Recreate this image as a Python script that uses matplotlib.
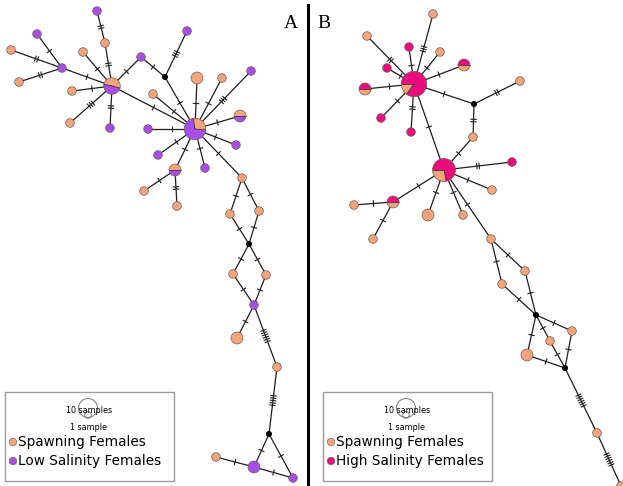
import numpy as np
import matplotlib
matplotlib.use("Agg")
import matplotlib.pyplot as plt
from matplotlib.patches import Circle, Wedge, Rectangle
from matplotlib.collections import LineCollection

# ---------------------------------------------------------------------------
# Haplotype network data (positions in image pixels, y down)
# frac = share of spawning females (-1 marks a median vector)

# panel A: spawning vs low salinity
a_x = [97, 105, 37, 11, 62, 19, 83, 112, 72, 70, 110, 141, 165, 187, 195, 197,
       222, 251, 153, 240, 148, 236, 158, 205, 175, 144, 177, 242, 230, 259,
       249, 233, 266, 254, 237, 277, 269, 216, 254, 293]
a_y = [11, 43, 34, 50, 68, 82, 52, 86, 91, 123, 128, 57, 77, 31, 129, 78,
       78, 71, 94, 116, 129, 145, 155, 168, 170, 191, 206, 178, 214, 211,
       244, 274, 275, 305, 338, 367, 434, 457, 467, 478]
a_n = [1, 1, 1, 1, 1, 1, 1, 4, 1, 1, 1, 1, 0, 1, 7, 2,
       1, 1, 1, 2, 1, 1, 1, 1, 2, 1, 1, 1, 1, 1,
       0, 1, 1, 1, 2, 1, 0, 1, 2, 1]
a_frac = [0, 1, 0, 1, 0, 1, 1, 0.51, 1, 1, 0, 0, -1, 0, 0.29, 1,
          1, 0, 1, 0.5, 0, 0, 0, 0, 0.5, 1, 1, 1, 1, 1,
          -1, 1, 1, 0, 1, 1, -1, 1, 0, 0]
a_start = {7: -15, 14: -5, 19: 0, 24: 0}
a_edges = [(0, 1, 2), (1, 7, 2), (2, 4, 1), (3, 4, 2), (5, 4, 2), (4, 7, 1),
           (6, 7, 1), (8, 7, 1), (9, 7, 3), (10, 7, 2), (7, 11, 1), (11, 12, 1),
           (12, 13, 3), (12, 14, 1), (7, 14, 1), (14, 15, 1), (14, 16, 1),
           (14, 17, 3), (14, 18, 1), (14, 19, 1), (14, 20, 1), (14, 21, 1),
           (14, 22, 1), (14, 23, 1), (14, 24, 1), (14, 27, 1), (24, 25, 1),
           (24, 26, 2), (27, 28, 1), (27, 29, 1), (28, 30, 1), (29, 30, 1),
           (30, 31, 1), (30, 32, 1), (31, 33, 1), (32, 33, 1), (33, 34, 1),
           (33, 35, 6), (35, 36, 5), (36, 38, 1), (36, 39, 1), (37, 38, 1),
           (38, 39, 1)]

# panel B: spawning vs high salinity
b_x = [433, 367, 409, 440, 387, 464, 414, 365, 381, 411, 474, 520, 473, 444,
       512, 492, 393, 354, 428, 463, 373, 491, 502, 525, 536, 572, 550, 527,
       565, 597, 621]
b_y = [14, 36, 47, 52, 68, 65, 84, 89, 118, 132, 104, 81, 137, 170,
       162, 190, 202, 205, 215, 215, 239, 239, 284, 271, 315, 331, 341, 355,
       368, 433, 486]
b_n = [1, 1, 1, 1, 1, 2, 10, 2, 1, 1, 0, 1, 1, 8,
       1, 1, 2, 1, 2, 1, 1, 1, 1, 1, 0, 1, 1, 2,
       0, 1, 1]
b_frac = [1, 1, 0, 1, 0, 0.5, 0.15, 0.5, 0, 0, -1, 1, 1, 0.28,
          0, 1, 0.5, 1, 1, 1, 1, 1, 1, 1, -1, 1, 1, 1,
          -1, 1, 1]
b_start = {5: 180, 6: 180, 7: 180, 13: 180, 16: 180}
b_edges = [(6, 0, 3), (6, 1, 2), (6, 2, 1), (6, 3, 1), (6, 4, 1), (6, 5, 1),
           (6, 7, 1), (6, 8, 1), (6, 9, 2), (6, 10, 1), (10, 11, 2), (10, 12, 2),
           (12, 13, 1), (6, 13, 1), (13, 14, 2), (13, 15, 1), (13, 16, 1),
           (16, 17, 1), (16, 20, 1), (13, 18, 1), (13, 19, 1), (13, 21, 1),
           (21, 22, 1), (21, 23, 1), (22, 24, 1), (23, 24, 1), (24, 25, 1),
           (24, 27, 1), (24, 26, 1), (26, 28, 1), (25, 28, 1), (27, 28, 1),
           (28, 29, 6), (29, 30, 6)]

legend_labels_a = ["Spawning Females", "Low Salinity Females"]
legend_labels_b = ["Spawning Females", "High Salinity Females"]

# ---------------------------------------------------------------------------
c_spawn = "#F4A47B"
c_low = "#A64DEA"
c_high = "#EC0B7E"
c_edge = "#1e1e1e"
c_rim = "#6e5a50"

fig = plt.figure(figsize=(6.23, 4.86), dpi=100)
ax = fig.add_axes([0, 0, 1, 1])
ax.set_xlim(0, 623)
ax.set_ylim(486, 0)
ax.axis("off")


def node_radius(n):
    # size scales with sample count
    if n == 0:
        return 2.3
    return 4.3 * n ** 0.47


def draw_network(xs, ys, ns, fracs, starts, edges, other):
    xs = np.asarray(xs, float)
    ys = np.asarray(ys, float)
    segs, ticks = [], []
    for i, j, k in edges:
        p = np.array([xs[i], ys[i]])
        q = np.array([xs[j], ys[j]])
        segs.append([p, q])
        d = (q - p) / np.hypot(*(q - p))
        nrm = np.array([-d[1], d[0]])
        mid = (p + q) / 2
        for t in range(k):
            c = mid + (t - (k - 1) / 2) * 2.4 * d
            ticks.append([c - 3.2 * nrm, c + 3.2 * nrm])
    ax.add_collection(LineCollection(segs, colors=c_edge, linewidths=0.9, zorder=1))
    ax.add_collection(LineCollection(ticks, colors=c_edge, linewidths=0.8, zorder=1))

    for idx, (x, y, n, f) in enumerate(zip(xs, ys, ns, fracs)):
        r = node_radius(n)
        if f < 0:
            ax.add_patch(Circle((x, y), 2.3, color="black", zorder=3))
            continue
        if f in (0, 1):
            col = c_spawn if f == 1 else other
            ax.add_patch(Circle((x, y), r, facecolor=col, edgecolor=c_rim,
                                linewidth=0.5, zorder=3))
            continue
        s = starts.get(idx, 0)
        e = s + f * 360
        # y axis is inverted, so flip the angles
        ax.add_patch(Wedge((x, y), r, -e, -s, facecolor=c_spawn,
                           edgecolor="none", zorder=3))
        ax.add_patch(Wedge((x, y), r, -s - 360, -e, facecolor=other,
                           edgecolor="none", zorder=3))
        for a in (s, e):
            ax.plot([x, x + r * np.cos(np.radians(a))],
                    [y, y - r * np.sin(np.radians(a))],
                    color="#4a3040", lw=0.6, zorder=4)
        ax.add_patch(Circle((x, y), r, facecolor="none", edgecolor=c_rim,
                            linewidth=0.5, zorder=4))


def draw_legend(x0, labels, other):
    ax.add_patch(Rectangle((x0, 392), 169, 89, facecolor="white",
                           edgecolor="#9a9a9a", linewidth=1.0, zorder=5))
    cx = x0 + 83
    ax.add_patch(Circle((cx, 408), 9.5, facecolor="none", edgecolor="#777777",
                        linewidth=0.7, zorder=6))
    ax.add_patch(Circle((cx, 415), 3.3, facecolor="none", edgecolor="#777777",
                        linewidth=0.7, zorder=6))
    ax.text(cx + 1, 410, "10 samples", fontsize=5.8, ha="center", va="center",
            zorder=7)
    ax.text(cx + 1, 427, "1 sample", fontsize=5.8, ha="center", va="center",
            zorder=7)
    for lab, col, y in zip(labels, [c_spawn, other], [442, 461]):
        ax.add_patch(Circle((x0 + 8, y), 3.8, facecolor=col, edgecolor=c_rim,
                            linewidth=0.4, zorder=6))
        ax.text(x0 + 13.5, y, lab, fontsize=9.8, ha="left", va="center",
                zorder=7)


draw_network(a_x, a_y, a_n, a_frac, a_start, a_edges, c_low)
draw_network(b_x, b_y, b_n, b_frac, b_start, b_edges, c_high)
draw_legend(5, legend_labels_a, c_low)
draw_legend(323, legend_labels_b, c_high)

# panel divider and labels
ax.plot([308, 308], [5, 486], color="black", lw=2.2, zorder=2)
ax.text(291, 24, "A", fontsize=14, family="Liberation Serif", ha="center",
        va="center")
ax.text(324, 24, "B", fontsize=14, family="Liberation Serif", ha="center",
        va="center")

fig.savefig("out.png", dpi=100)
